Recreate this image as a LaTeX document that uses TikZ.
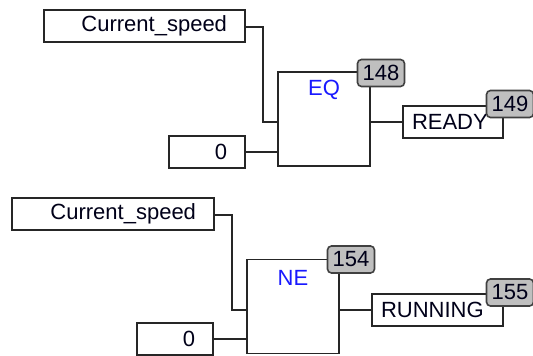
\documentclass[tikz,border=0pt]{standalone}
\usepackage{fontspec}
\setmainfont{Liberation Sans}
\begin{document}
\begin{tikzpicture}[x=1pt,y=-1pt,
  wire/.style={draw=black!85, line width=1.8pt},
  varbox/.style={draw=black!85, line width=1.8pt, fill=white, minimum height=32pt, inner ysep=0pt, font=\fontsize{22}{25}\selectfont, text=black!90!blue},
  rvar/.style={varbox, inner xsep=18pt, align=right},
  lvar/.style={varbox, inner xsep=9pt, align=left},
  fblock/.style={draw=black!85, line width=1.8pt, fill=white, minimum width=92pt, minimum height=94pt, inner sep=0pt},
  fname/.style={text=blue!90!white, font=\fontsize{22}{25}\selectfont, inner sep=0pt},
  tagbox/.style={draw=black!75, line width=1.6pt, fill=black!25, rounded corners=4pt, minimum width=47pt, minimum height=27pt, inner sep=0pt, font=\fontsize{22}{25}\selectfont, text=black!90!blue}
]
\fill[white] (0,0) rectangle (533,356);
\useasboundingbox (0,0) rectangle (533,356);

% ---- top network (EQ) ----
\node[rvar, text width=165pt] (cs1) at (144.5,26) {Current\_speed};
\node[rvar, text width=40pt] (z1) at (207,152) {0};
\node[fblock] (eq) at (324,119) {};
\node[fname] (eqn) at (324,90) {EQ};
\node[lvar, text width=82pt] (ready) at (453,122) {READY};
\coordinate (eqin1) at (278,122);
\coordinate (eqin2) at (278,152);
\coordinate (eqout) at (370,122);
\draw[wire] (cs1.east |- 0,27) -- (263,27) |- (eqin1);
\draw[wire] (z1.east) -- (eqin2);
\draw[wire] (eqout) -- (ready.west);
\node[tagbox] (t148) at (381,73) {148};
\node[tagbox] (t149) at (510,104) {149};

% ---- bottom network (NE) ----
\node[rvar, text width=166pt] (cs2) at (113,214) {Current\_speed};
\node[rvar, text width=40pt] (z2) at (175,339) {0};
\node[fblock] (ne) at (293,306.5) {};
\node[fname] (nen) at (293,278) {NE};
\node[lvar, text width=113pt] (run) at (437.5,310) {RUNNING};
\coordinate (nein1) at (247,310);
\coordinate (nein2) at (247,339);
\coordinate (neout) at (339,310);
\draw[wire] (cs2.east |- 0,215) -- (232,215) |- (nein1);
\draw[wire] (z2.east) -- (nein2);
\draw[wire] (neout) -- (run.west);
\node[tagbox] (t154) at (351,259.5) {154};
\node[tagbox] (t155) at (510,292.5) {155};
\end{tikzpicture}
\end{document}
